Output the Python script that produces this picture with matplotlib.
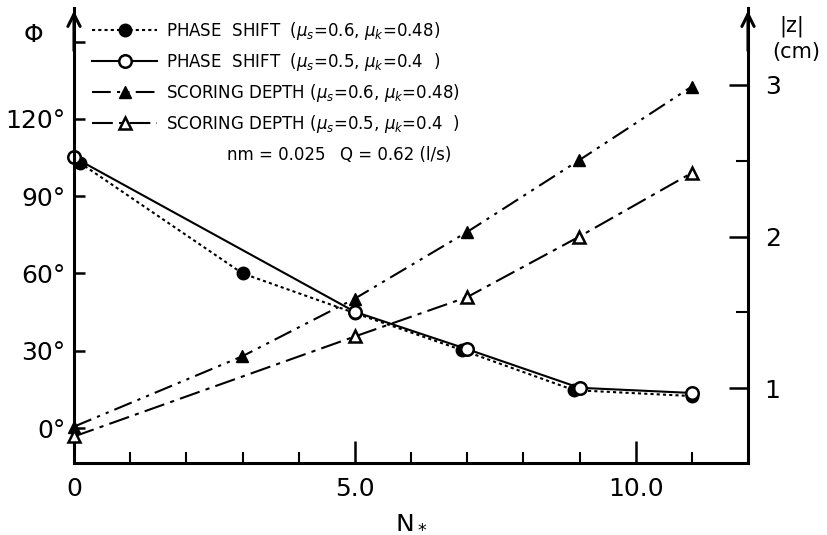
import matplotlib.pyplot as plt
from matplotlib.ticker import FixedLocator

# --- datos ---
n_fase_06 = [0.1, 3.0, 5.0, 6.9, 8.9, 11.0]
fase_06 = [103.0, 60.0, 44.6, 30.3, 14.7, 12.4]

n_fase_05 = [0.0, 5.0, 7.0, 9.0, 11.0]
fase_05 = [105.0, 45.1, 30.6, 15.6, 13.6]

n_prof_06 = [0.0, 3.0, 5.0, 7.0, 9.0, 11.0]
prof_06 = [0.745, 1.21, 1.59, 2.03, 2.505, 2.99]

n_prof_05 = [0.0, 5.0, 7.0, 9.0, 11.0]
prof_05 = [0.68, 1.34, 1.60, 2.0, 2.42]

etiquetas = [
    r"PHASE  SHIFT  ($\mu_s$=0.6, $\mu_k$=0.48)",
    r"PHASE  SHIFT  ($\mu_s$=0.5, $\mu_k$=0.4  )",
    r"SCORING DEPTH ($\mu_s$=0.6, $\mu_k$=0.48)",
    r"SCORING DEPTH ($\mu_s$=0.5, $\mu_k$=0.4  )",
]

ticks_fase = [0, 30, 60, 90, 120, 150]
etiq_fase = ["0°", "30°", "60°", "90°", "120°", ""]

plt.rcParams['font.family'] = ['DejaVu Sans']

W, H = 827, 535
fig = plt.figure(figsize=(W / 100, H / 100), dpi=100)
ax = fig.add_axes([74 / W, 1 - 463 / H, (748 - 74) / W, (463 - 8) / H])
ax2 = ax.twinx()

lw = 1.5
l1, = ax.plot(n_fase_06, fase_06, color='k', lw=lw, linestyle=(0, (1.5, 1.5)),
              marker='o', markersize=9, markerfacecolor='k', clip_on=False)
l2, = ax.plot(n_fase_05, fase_05, color='k', lw=lw, linestyle='-',
              marker='o', markersize=9, markerfacecolor='white', markeredgewidth=1.8,
              clip_on=False)
l3, = ax2.plot(n_prof_06, prof_06, color='k', lw=lw, linestyle=(0, (9, 3, 1.5, 3, 1.5, 3)),
               marker='^', markersize=9, markerfacecolor='k', clip_on=False)
l4, = ax2.plot(n_prof_05, prof_05, color='k', lw=lw, linestyle=(0, (10, 3, 2, 3)),
               marker='^', markersize=9, markerfacecolor='white', markeredgewidth=1.8,
               clip_on=False)

# ejes
ax.set_xlim(0, 12)
ax.set_ylim((428 - 463) / 77.3 * 30, (428 - 8) / 77.3 * 30)
ax2.set_ylim(1 - (463 - 388) / 151.5, 3 + (85 - 8) / 151.5)

for a in (ax, ax2):
    a.spines['top'].set_visible(False)
    for s in a.spines.values():
        s.set_linewidth(2.2)
ax.spines['right'].set_visible(False)
ax2.spines['left'].set_visible(False)
ax2.spines['bottom'].set_visible(False)

ax.set_xticks([0, 5, 10])
ax.set_xticklabels(["0", "5.0", "10.0"])
ax.xaxis.set_minor_locator(FixedLocator([1, 2, 3, 4, 6, 7, 8, 9, 11]))
ax.tick_params(axis='x', which='major', direction='in', length=16, width=1.8,
               labelsize=18, pad=10)
ax.tick_params(axis='x', which='minor', direction='in', length=8, width=1.5)

ax.set_yticks(ticks_fase)
ax.set_yticklabels(etiq_fase)
ax.tick_params(axis='y', which='major', direction='in', length=8, width=1.8,
               labelsize=18, pad=6)

ax2.set_yticks([1, 2, 3])
ax2.set_yticklabels(["1", "2", "3"])
ax2.yaxis.set_minor_locator(FixedLocator([1.5, 2.5]))
ax2.tick_params(axis='y', which='major', direction='in', length=14, width=1.8,
                labelsize=18, pad=12)
ax2.tick_params(axis='y', which='minor', direction='in', length=9, width=1.5)

# flechas en los ejes verticales
for xa in (0, 1):
    ax.annotate("", xy=(xa, 1.0), xytext=(xa, 0.9), xycoords='axes fraction',
                arrowprops=dict(arrowstyle='->', lw=2.2, color='k',
                                mutation_scale=22))

ax.set_xlabel("N$_*$", fontsize=18, labelpad=6)

fig.text(33 / W, 1 - 35 / H, "Φ", fontsize=18, ha='center', va='center')
fig.text(779 / W, 1 - 26 / H, "|z|", fontsize=15, ha='left', va='center')
fig.text(772 / W, 1 - 52 / H, "(cm)", fontsize=15, ha='left', va='center')

fig.text(227 / W, 1 - 155 / H, "nm = 0.025", fontsize=12, ha='left', va='center')
fig.text(340 / W, 1 - 155 / H, "Q = 0.62 (l/s)", fontsize=12, ha='left', va='center')

ax.legend([l1, l2, l3, l4], etiquetas, loc='upper left',
          bbox_to_anchor=(0.01, 1.0), frameon=False, fontsize=12,
          handlelength=3.9, handletextpad=0.5, labelspacing=0.55,
          borderaxespad=0.3)

fig.savefig("out.png", dpi=100)
